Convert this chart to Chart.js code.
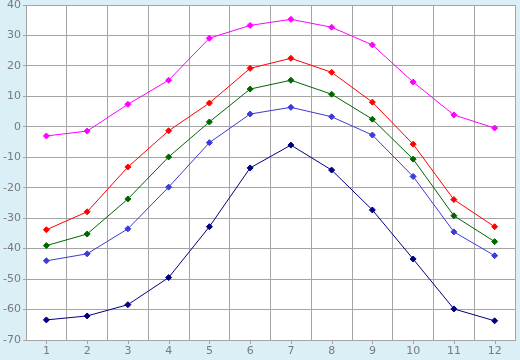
<!DOCTYPE html>
<html>
<head>
<meta charset="utf-8">
<script src="https://cdn.jsdelivr.net/npm/chart.js@4.4.1/dist/chart.umd.min.js"></script>
<style>
  html, body { margin: 0; padding: 0; background: #dbeff6; }
  #wrap { width: 520px; height: 360px; position: relative; }
</style>
</head>
<body>
<div id="wrap"><canvas id="c"></canvas></div>
<script>
const months = ["1", "2", "3", "4", "5", "6", "7", "8", "9", "10", "11", "12"];

const magentaSeries = [-3, -1.4, 7.4, 15.3, 29.1, 33.3, 35.3, 32.7, 26.9, 14.7, 3.9, -0.4];
const redSeries = [-33.8, -27.9, -13.2, -1.3, 7.8, 19.2, 22.5, 17.9, 8.1, -5.7, -23.9, -32.8];
const greenSeries = [-39, -35.2, -23.7, -9.9, 1.6, 12.4, 15.3, 10.7, 2.5, -10.6, -29.2, -37.7];
const blueSeries = [-44, -41.7, -33.5, -19.8, -5.2, 4.2, 6.4, 3.3, -2.7, -16.3, -34.5, -42.3];
const navySeries = [-63.4, -62.1, -58.4, -49.5, -32.8, -13.5, -6, -14.2, -27.3, -43.4, -59.8, -63.7];

const yMin = -70;
const yMax = 40;
const yStep = 10;

// fond blanc de la zone de tracé + petites graduations au centre des catégories
const plotBgPlugin = {
  id: "plotBg",
  beforeDraw(chart) {
    const { ctx, chartArea } = chart;
    ctx.save();
    ctx.fillStyle = "#ffffff";
    ctx.fillRect(chartArea.left, chartArea.top, chartArea.right - chartArea.left, chartArea.bottom - chartArea.top);
    ctx.restore();
  },
  afterDraw(chart) {
    const { ctx, chartArea, scales } = chart;
    ctx.save();
    ctx.strokeStyle = "#a4a4a4";
    ctx.lineWidth = 1;
    ctx.beginPath();
    months.forEach((_, i) => {
      const x = Math.round(scales.x.getPixelForValue(i)) + 0.5;
      ctx.moveTo(x, chartArea.bottom);
      ctx.lineTo(x, chartArea.bottom + 4);
    });
    ctx.stroke();
    ctx.restore();
  }
};

function serie(data, color) {
  return {
    data,
    borderColor: color,
    backgroundColor: color,
    borderWidth: 1,
    pointStyle: "rectRot",
    pointRadius: 3,
    pointBorderWidth: 1,
    tension: 0
  };
}

new Chart(document.getElementById("c"), {
  type: "line",
  data: {
    labels: months,
    datasets: [
      serie(magentaSeries, "#ff00ff"),
      serie(redSeries, "#ff0000"),
      serie(greenSeries, "#006600"),
      serie(blueSeries, "#3b3bd6"),
      serie(navySeries, "#000080")
    ]
  },
  options: {
    responsive: true,
    maintainAspectRatio: false,
    animation: false,
    layout: { padding: { top: 4, right: 5, left: 0, bottom: 0 } },
    plugins: {
      legend: { display: false },
      tooltip: { enabled: false }
    },
    scales: {
      x: {
        offset: true,
        grid: { offset: true, color: "#a4a4a4", drawTicks: false },
        border: { color: "#a4a4a4" },
        ticks: { color: "#7a7a7a", font: { family: "DejaVu Sans", size: 11 }, padding: 5 },
        afterFit(scale) { scale.height = 20; }
      },
      y: {
        min: yMin,
        max: yMax,
        grid: { color: "#a4a4a4", tickLength: 3 },
        border: { color: "#a4a4a4" },
        ticks: { stepSize: yStep, color: "#7a7a7a", font: { family: "DejaVu Sans", size: 11 }, padding: 2 },
        afterFit(scale) {
          scale.width = 26;
          scale.paddingTop = 0;
          scale.paddingBottom = 0;
        }
      }
    }
  },
  plugins: [plotBgPlugin]
});
</script>
</body>
</html>
